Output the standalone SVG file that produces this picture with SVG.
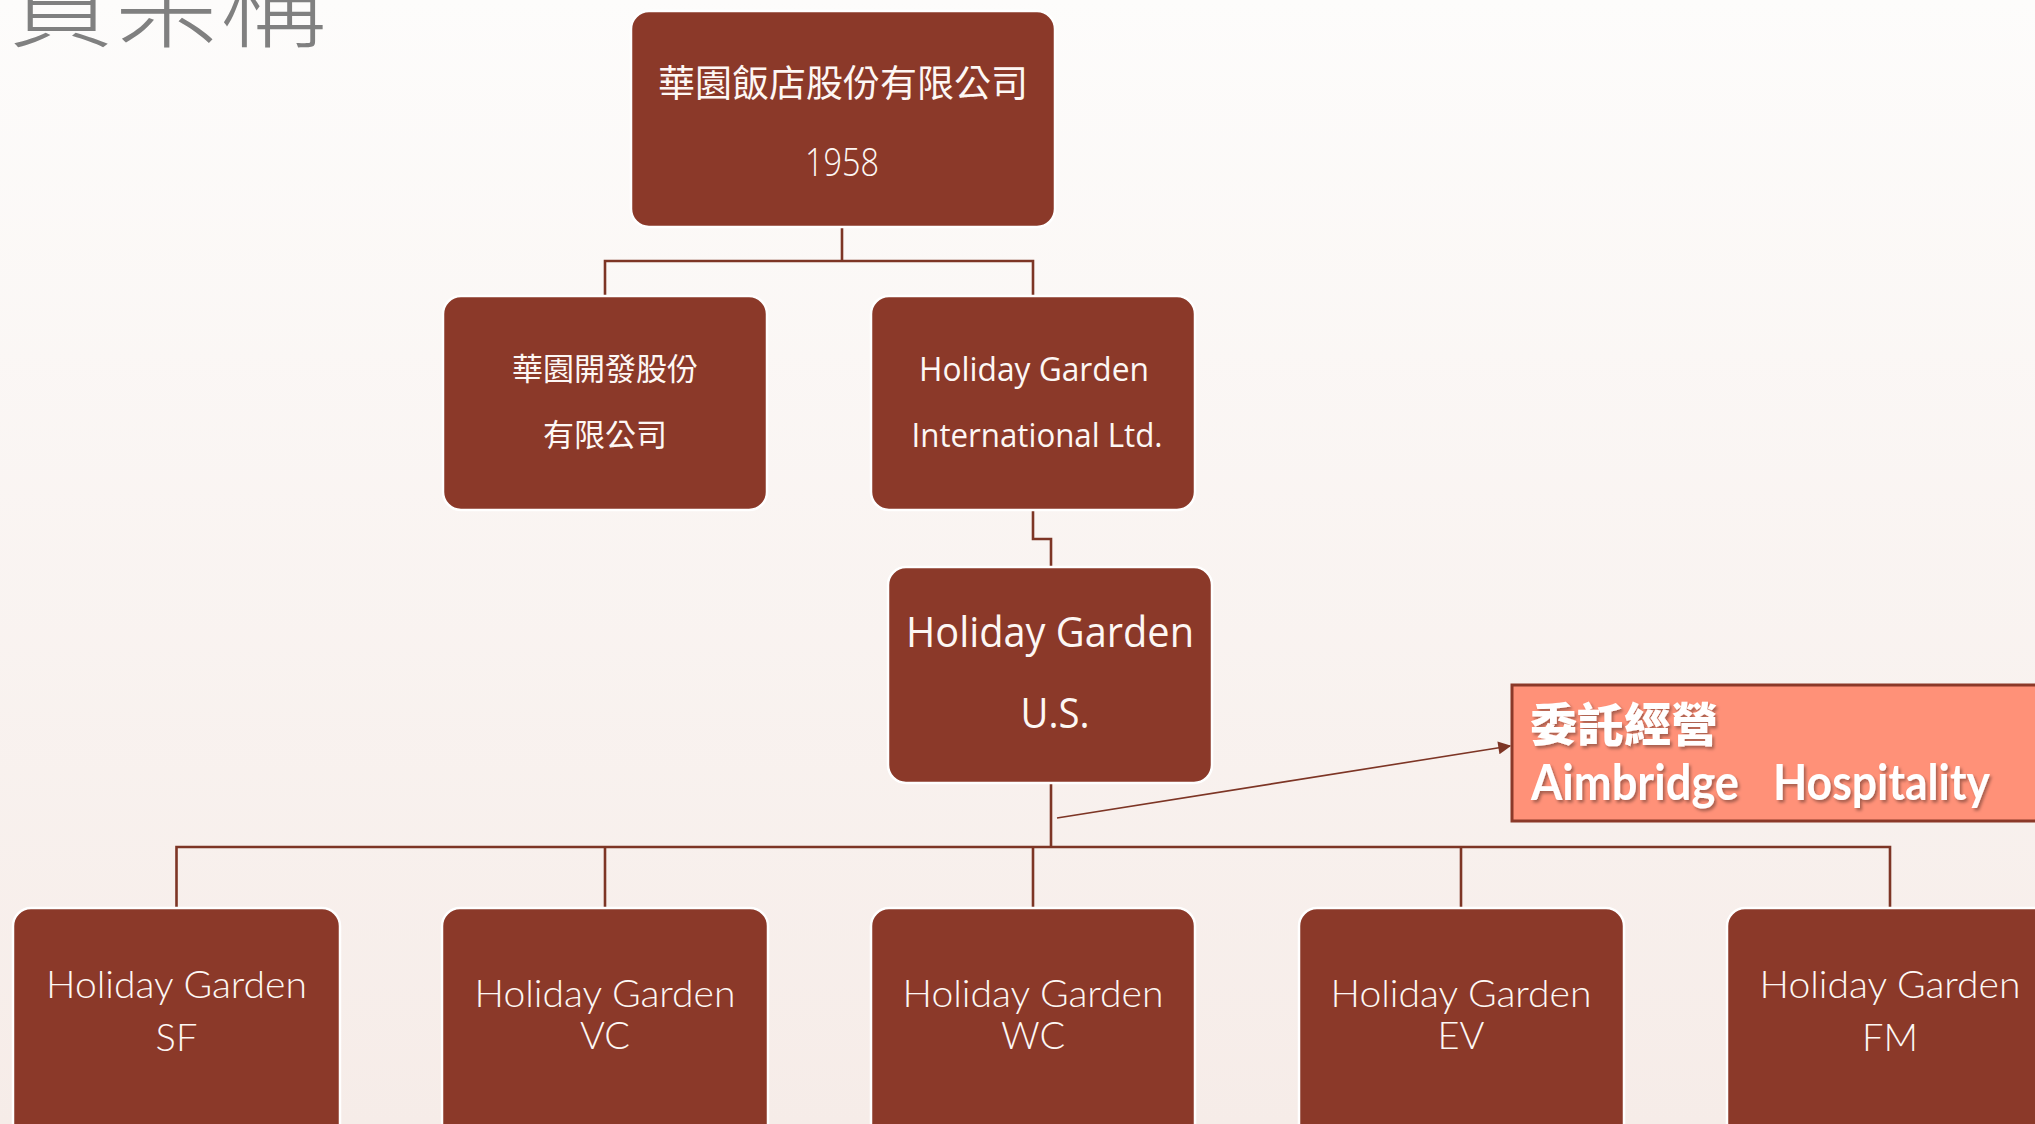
<svg xmlns="http://www.w3.org/2000/svg" width="2035" height="1124" viewBox="0 0 2035 1124">
<defs>
<linearGradient id="bg" x1="0" y1="0" x2="0" y2="1">
<stop offset="0" stop-color="#fdfcfb"/>
<stop offset="1" stop-color="#f6ece8"/>
</linearGradient>
<marker id="arr" viewBox="0 0 10 10" refX="9" refY="5" markerWidth="15" markerHeight="13" orient="auto" markerUnits="userSpaceOnUse">
<path d="M0,0 L10,5 L0,10 z" fill="#7d3525"/>
</marker>
<filter id="sh" x="-5%" y="-20%" width="110%" height="150%">
<feDropShadow dx="2" dy="2.5" stdDeviation="1.5" flood-color="#000" flood-opacity="0.35"/>
</filter>
</defs>
<style>
.box{fill:#8b3929;stroke:#ffffff;stroke-width:2.5}
.cjk{font-family:"Noto Sans CJK TC","Noto Sans CJK SC",sans-serif;fill:#fdf7f4;text-anchor:middle}
.seg{font-family:"Open Sans","Noto Sans",sans-serif;fill:#fdf7f4;text-anchor:middle}
.gill{font-family:Lato,"Open Sans",sans-serif;font-weight:300;fill:#fdf7f4;text-anchor:middle;font-size:38px}
.con{fill:none;stroke:#7d3525;stroke-width:2.6}
.orng{font-family:Lato,"Open Sans",sans-serif;font-weight:700;font-size:50px}
</style>
<rect x="0" y="0" width="2035" height="1124" fill="url(#bg)"/>
<text x="8" y="39" font-family="Noto Sans CJK TC, Noto Sans CJK SC, sans-serif" font-weight="300" font-size="106" fill="#808080">資架構</text>

<g id="connectors">
<path class="con" d="M605,296 V261 H1033 V296 M842,227 V261"/>
<path class="con" d="M1033,510 V539 H1051 V567"/>
<path class="con" d="M1051,783 V847 M176.5,908 V847 H1890 V908 M605,847 V908 M1033,847 V908 M1461,847 V908"/>
<line x1="1057" y1="818" x2="1510" y2="746" stroke="#7d3525" stroke-width="1.6" marker-end="url(#arr)"/>
</g>

<g id="node-top">
<rect class="box" x="631" y="11" width="424" height="216" rx="18"/>
<text class="cjk" x="843" y="97" font-size="37">華園飯店股份有限公司</text>
<text class="seg" x="842" y="176" font-size="38" font-weight="300" textLength="74" lengthAdjust="spacingAndGlyphs">1958</text>
</g>

<g id="node-dev">
<rect class="box" x="443" y="296" width="324" height="214" rx="18"/>
<text class="cjk" x="605" y="380" font-size="31">華園開發股份</text>
<text class="cjk" x="605" y="446" font-size="31">有限公司</text>
</g>

<g id="node-intl">
<rect class="box" x="871" y="296" width="324" height="214" rx="18"/>
<text class="seg" x="1034" y="381" font-size="33" textLength="230" lengthAdjust="spacingAndGlyphs">Holiday Garden</text>
<text class="seg" x="1037" y="447" font-size="33" textLength="251" lengthAdjust="spacingAndGlyphs">International Ltd.</text>
</g>

<g id="node-us">
<rect class="box" x="888" y="567" width="324" height="216" rx="18"/>
<text class="seg" x="1050" y="647" font-size="42" textLength="288" lengthAdjust="spacingAndGlyphs">Holiday Garden</text>
<text class="seg" x="1055" y="728" font-size="42" textLength="69" lengthAdjust="spacingAndGlyphs">U.S.</text>
</g>

<g id="node-aimbridge">
<rect x="1512" y="685" width="540" height="136" fill="#ff9178" stroke="#8b3929" stroke-width="3"/>
<g filter="url(#sh)" fill="#ffffff">
<text x="1530" y="741" font-family="Noto Sans CJK TC, Noto Sans CJK SC, sans-serif" font-weight="900" font-size="46" textLength="188" lengthAdjust="spacingAndGlyphs">委託經營</text>
<text class="orng" x="1531" y="800" textLength="208" lengthAdjust="spacingAndGlyphs">Aimbridge</text>
<text class="orng" x="1773" y="800" textLength="217" lengthAdjust="spacingAndGlyphs">Hospitality</text>
</g>
</g>

<g id="node-sf">
<rect class="box" x="13" y="908" width="327" height="240" rx="18"/>
<text class="gill" x="176.5" y="998" textLength="261" lengthAdjust="spacingAndGlyphs">Holiday Garden</text>
<text class="gill" x="176.5" y="1051">SF</text>
</g>

<g id="node-vc">
<rect class="box" x="442" y="908" width="326" height="240" rx="18"/>
<text class="gill" x="605" y="1007" textLength="261" lengthAdjust="spacingAndGlyphs">Holiday Garden</text>
<text class="gill" x="605" y="1049">VC</text>
</g>

<g id="node-wc">
<rect class="box" x="871" y="908" width="324" height="240" rx="18"/>
<text class="gill" x="1033" y="1007" textLength="261" lengthAdjust="spacingAndGlyphs">Holiday Garden</text>
<text class="gill" x="1033" y="1049">WC</text>
</g>

<g id="node-ev">
<rect class="box" x="1299" y="908" width="325" height="240" rx="18"/>
<text class="gill" x="1461" y="1007" textLength="261" lengthAdjust="spacingAndGlyphs">Holiday Garden</text>
<text class="gill" x="1461" y="1049">EV</text>
</g>

<g id="node-fm">
<rect class="box" x="1727" y="908" width="326" height="240" rx="18"/>
<text class="gill" x="1890" y="998" textLength="261" lengthAdjust="spacingAndGlyphs">Holiday Garden</text>
<text class="gill" x="1890" y="1051">FM</text>
</g>
</svg>
